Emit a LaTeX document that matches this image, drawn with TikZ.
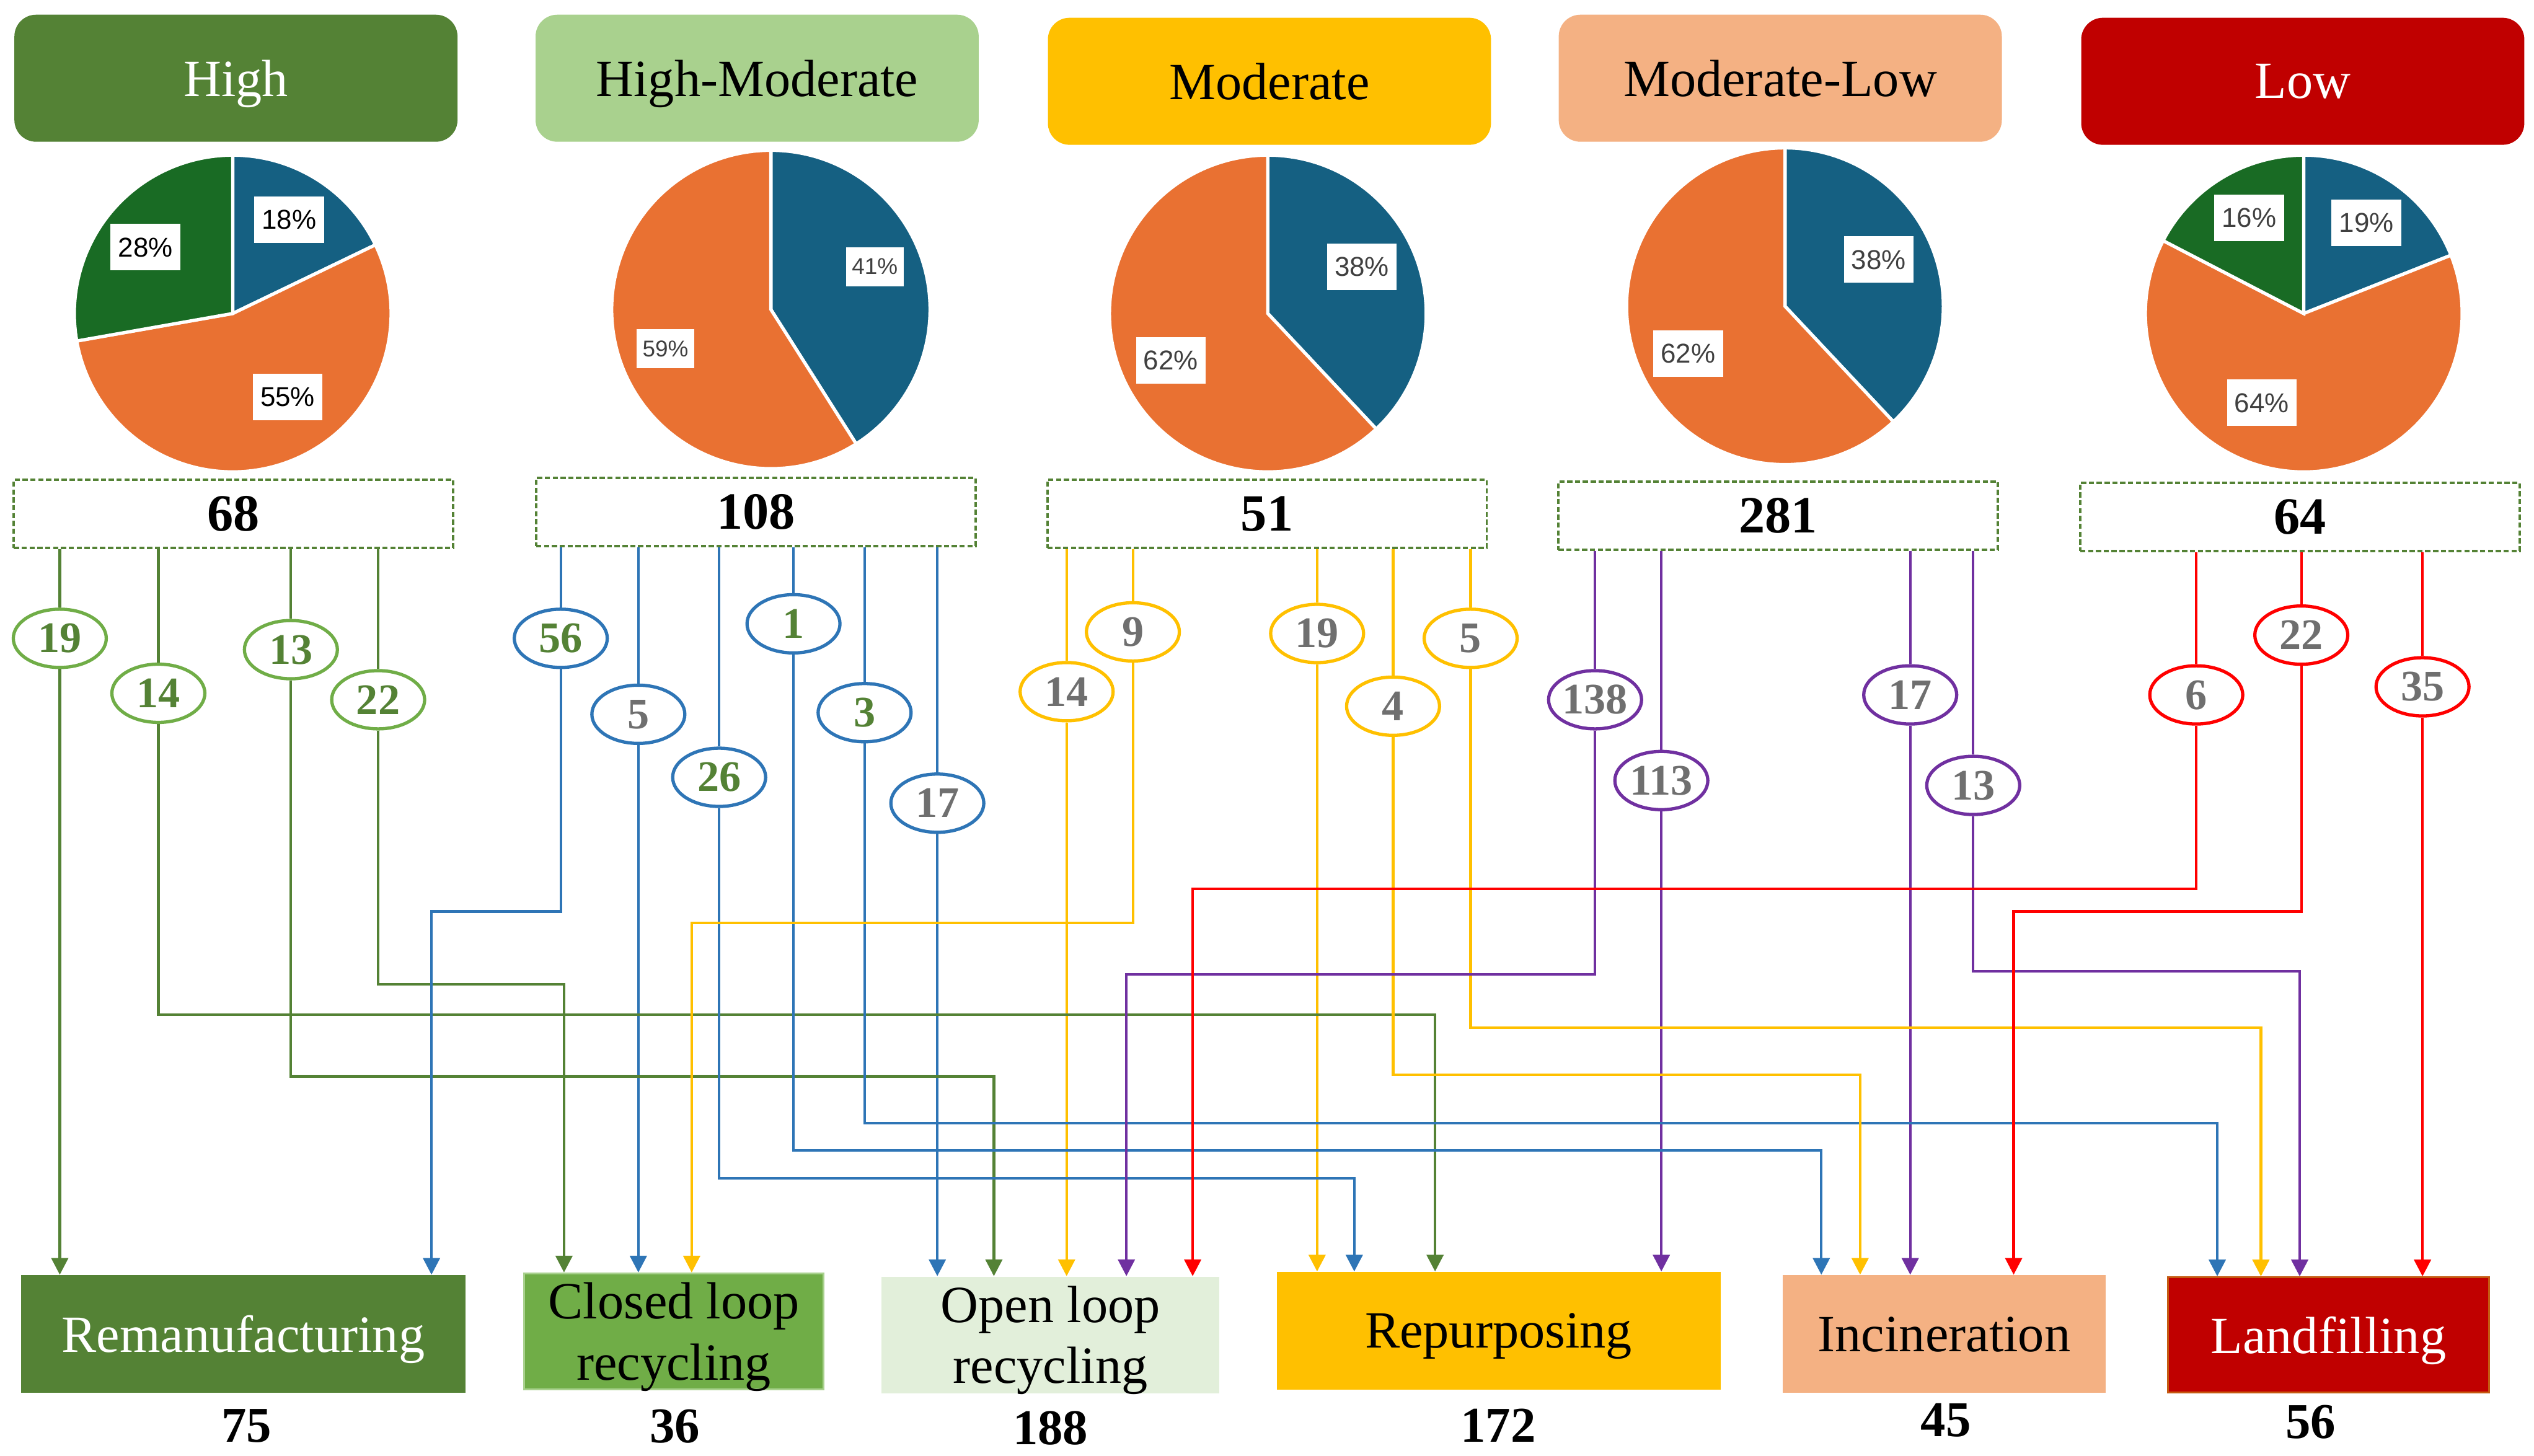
\documentclass[tikz,border=0pt]{standalone}
\usepackage{fontspec}
\setmainfont{Liberation Serif}
\newfontfamily\piefont{Liberation Sans}
\usetikzlibrary{arrows.meta,shapes.geometric}
\definecolor{hiG}{HTML}{548235}
\definecolor{hmG}{HTML}{A9D18E}
\definecolor{clG}{HTML}{70AD47}
\definecolor{olG}{HTML}{E2EFDA}
\definecolor{modY}{HTML}{FFC000}
\definecolor{mlO}{HTML}{F4B183}
\definecolor{lowR}{HTML}{C00000}
\definecolor{lanEdge}{HTML}{C55A11}
\definecolor{lineB}{HTML}{2E75B6}
\definecolor{lineP}{HTML}{7030A0}
\definecolor{lineR}{HTML}{FF0000}
\definecolor{pieB}{HTML}{156082}
\definecolor{pieO}{HTML}{E97132}
\definecolor{pieG}{HTML}{196B24}
\definecolor{pctGray}{HTML}{404040}
\definecolor{numGray}{HTML}{6F6F6F}
\begin{document}
\begin{tikzpicture}
  [x=0.026071cm,y=0.026071cm,
   head/.style={rounded corners=0.35cm,minimum width=7.15cm,minimum height=2.05cm,inner sep=0pt,text depth=0pt,font=\fontsize{24}{28}\selectfont},
   total/.style={draw=hiG,dash pattern=on 2.4pt off 1.2pt,line width=1.1pt,minimum width=7.09cm,minimum height=1.1cm,inner sep=0pt,font=\fontsize{24}{28}\selectfont\bfseries},
   pct/.style={fill=white,inner xsep=3.5pt,inner ysep=0pt,minimum height=0.75cm,font=\piefont\fontsize{12.5}{14}\selectfont},
   pctS/.style={minimum height=0.63cm,inner xsep=2.8pt,font=\piefont\fontsize{10.5}{12}\selectfont},
   wedge/.style={draw=white,line width=1.5pt},
   lab/.style={ellipse,fill=white,line width=1.5pt,minimum width=1.5cm,minimum height=0.94cm,inner sep=0pt,font=\fontsize{20}{24}\selectfont\bfseries},
   stem/.style={line width=1.2pt},
   flow/.style={line width=1.2pt,-{Triangle[width=0.27cm,length=0.27cm]}},
   dest/.style={inner sep=0pt,align=center,text depth=0pt,font=\fontsize{24}{28}\selectfont},
   count/.style={font=\fontsize{23}{27}\selectfont\bfseries}]
\useasboundingbox (0,0) rectangle (1568,-900.65);

\node (hHi)[head,fill=hiG,text=white] at (146,-48.4) {High};
\node (hHM)[head,fill=hmG] at (468.5,-48.4) {High-Moderate};
\node (hMo)[head,fill=modY] at (785.5,-50.3) {Moderate};
\node (hML)[head,fill=mlO] at (1101.6,-48.4) {Moderate-Low};
\node (hLo)[head,fill=lowR,text=white] at (1424.9,-50.3) {Low};

\coordinate (c1) at (144,-194);
\coordinate (c2) at (477,-191.5);
\coordinate (c3) at (784.5,-194);
\coordinate (c4) at (1104.5,-189.5);
\coordinate (c5) at (1425.5,-194);
\filldraw[wedge,fill=pieB] (c1) -- ++(90:98) arc[start angle=90,end angle=25.7,radius=98] -- cycle;
\filldraw[wedge,fill=pieO] (c1) -- ++(25.7:98) arc[start angle=25.7,end angle=-170,radius=98] -- cycle;
\filldraw[wedge,fill=pieG] (c1) -- ++(-170:98) arc[start angle=-170,end angle=-270,radius=98] -- cycle;
\filldraw[wedge,fill=pieB] (c2) -- ++(90:98.5) arc[start angle=90,end angle=-57.6,radius=98.5] -- cycle;
\filldraw[wedge,fill=pieO] (c2) -- ++(-57.6:98.5) arc[start angle=-57.6,end angle=-270,radius=98.5] -- cycle;
\filldraw[wedge,fill=pieB] (c3) -- ++(90:98) arc[start angle=90,end angle=-46.8,radius=98] -- cycle;
\filldraw[wedge,fill=pieO] (c3) -- ++(-46.8:98) arc[start angle=-46.8,end angle=-270,radius=98] -- cycle;
\filldraw[wedge,fill=pieB] (c4) -- ++(90:98) arc[start angle=90,end angle=-46.8,radius=98] -- cycle;
\filldraw[wedge,fill=pieO] (c4) -- ++(-46.8:98) arc[start angle=-46.8,end angle=-270,radius=98] -- cycle;
\filldraw[wedge,fill=pieB] (c5) -- ++(90:98) arc[start angle=90,end angle=21.6,radius=98] -- cycle;
\filldraw[wedge,fill=pieO] (c5) -- ++(21.6:98) arc[start angle=21.6,end angle=-207.4,radius=98] -- cycle;
\filldraw[wedge,fill=pieG] (c5) -- ++(-207.4:98) arc[start angle=-207.4,end angle=-270,radius=98] -- cycle;

\node (p1a)[pct] at (178.9,-136) {18\%};
\node (p1b)[pct] at (90,-153) {28\%};
\node (p1c)[pct] at (178,-245.5) {55\%};
\node (p2a)[pct,pctS,text=pctGray] at (541.3,-165) {41\%};
\node (p2b)[pct,pctS,text=pctGray] at (411.8,-215.8) {59\%};
\node (p3a)[pct,text=pctGray] at (842.7,-165) {38\%};
\node (p3b)[pct,text=pctGray] at (724.5,-223) {62\%};
\node (p4a)[pct,text=pctGray] at (1162.5,-160.7) {38\%};
\node (p4b)[pct,text=pctGray] at (1044.6,-218.7) {62\%};
\node (p5a)[pct,text=pctGray] at (1464.3,-138) {19\%};
\node (p5b)[pct,text=pctGray] at (1391.7,-134.8) {16\%};
\node (p5c)[pct,text=pctGray] at (1399.5,-249.3) {64\%};

\node (tHi)[total] at (144.5,-318) {68};
\node (tHM)[total] at (467.7,-316.8) {108};
\node (tMo)[total] at (784,-318) {51};
\node (tML)[total] at (1100.3,-319) {281};
\node (tLo)[total] at (1423.1,-319.8) {64};

\node (rem)[dest,fill=hiG,text=white,minimum width=7.17cm,minimum height=1.9cm] at (150.5,-825.5) {Remanufacturing};
\node (clr)[dest,fill=clG,draw=hmG,line width=0.8pt,minimum width=4.83cm,minimum height=1.87cm] at (417,-823.8) {Closed loop\\recycling};
\node (olr)[dest,fill=olG,minimum width=5.45cm,minimum height=1.88cm] at (650,-826) {Open loop\\recycling};
\node (rep)[dest,fill=modY,minimum width=7.16cm,minimum height=1.9cm] at (927.3,-823.5) {Repurposing};
\node (inc)[dest,fill=mlO,minimum width=5.21cm,minimum height=1.9cm] at (1203,-825.5) {Incineration};
\node (lan)[dest,fill=lowR,draw=lanEdge,line width=0.8pt,text=white,minimum width=5.18cm,minimum height=1.86cm] at (1440.8,-826) {Landfilling};

\node (nRem)[count] at (152.6,-882.5) {75};
\node (nClr)[count] at (417.6,-882.5) {36};
\node (nOlr)[count] at (650,-883.7) {188};
\node (nRep)[count] at (927,-882) {172};
\node (nInc)[count] at (1204,-879) {45};
\node (nLan)[count] at (1429.7,-880) {56};

\foreach \nm/\x/\y/\val/\bc/\tc in {
  a1/37/395/19/clG/hiG, a2/98/429/14/clG/hiG, a3/180/402/13/clG/hiG, a4/234/433/22/clG/hiG,
  b1/347/395/56/lineB/hiG, b2/395/442/5/lineB/numGray, b3/445/481/26/lineB/hiG,
  b4/491/386/1/lineB/hiG, b5/535/441/3/lineB/hiG, b6/580/497/17/lineB/numGray,
  c1/660/428/14/modY/numGray, c2/701/391/9/modY/numGray, c3/815/392/19/modY/numGray,
  c4/862/437/4/modY/numGray, c5/910/395/5/modY/numGray,
  d1/987/433/138/lineP/numGray, d2/1028/483/113/lineP/numGray,
  d3/1182/430/17/lineP/numGray, d4/1221/486/13/lineP/numGray,
  e1/1359/430/6/lineR/numGray, e2/1424/393/22/lineR/numGray, e3/1499/425/35/lineR/numGray}
  \node (\nm)[lab,draw=\bc,text=\tc] at (\x,-\y) {\val};

\foreach \nm/\src/\col in {a1/tHi/hiG,a2/tHi/hiG,a3/tHi/hiG,a4/tHi/hiG,
  b1/tHM/lineB,b2/tHM/lineB,b3/tHM/lineB,b4/tHM/lineB,b5/tHM/lineB,b6/tHM/lineB,
  c1/tMo/modY,c2/tMo/modY,c3/tMo/modY,c4/tMo/modY,c5/tMo/modY,
  d1/tML/lineP,d2/tML/lineP,d3/tML/lineP,d4/tML/lineP,
  e1/tLo/lineR,e2/tLo/lineR,e3/tLo/lineR}
  \draw[stem,color=\col] (\src.south -| \nm) -- (\nm.north);

\foreach \nm/\dst/\col in {a1/rem/hiG,b2/clr/lineB,b6/olr/lineB,c1/olr/modY,
  c3/rep/modY,d2/rep/lineP,d3/inc/lineP,e3/lan/lineR}
  \draw[flow,color=\col] (\nm.south) -- (\nm.south |- \dst.north);

\foreach \nm/\y/\x/\dst/\col in {a2/628/888/rep/hiG, a3/666/615/olr/hiG, a4/609/349/clr/hiG,
  b1/564/267/rem/lineB, b3/729/838/rep/lineB, b4/712/1127/inc/lineB, b5/695/1372/lan/lineB,
  c2/571/428/clr/modY, c4/665/1151/inc/modY, c5/636/1399/lan/modY,
  d1/603/697/olr/lineP, d4/601/1423/lan/lineP,
  e1/550/738/olr/lineR, e2/564/1246/inc/lineR}
  \draw[flow,color=\col] (\nm.south) |- (\x,-\y) -- (\x,0 |- \dst.north);
\end{tikzpicture}
\end{document}
